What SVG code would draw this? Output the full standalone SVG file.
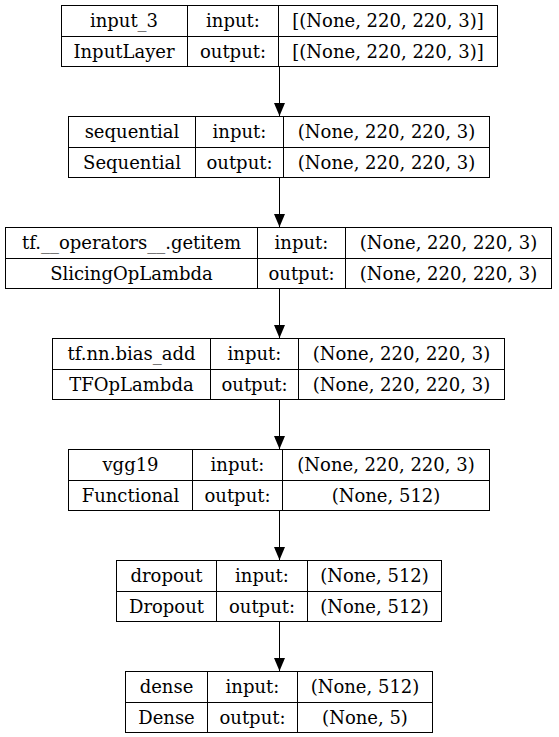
<svg xmlns="http://www.w3.org/2000/svg" width="559" height="737" viewBox="0 0 559 737">
<style>
rect.b{fill:#fff;stroke:#000;stroke-width:1}
line.d{stroke:#000;stroke-width:1}
.e{stroke:#000;stroke-width:1;fill:none}
</style>
<rect width="559" height="737" fill="#fff"/>
<g id="edges">
<line class="e" x1="279.5" y1="67" x2="279.5" y2="116"/>
<polygon points="274,103 285,103 279.5,116"/>
<line class="e" x1="279.5" y1="178" x2="279.5" y2="227"/>
<polygon points="274,214 285,214 279.5,227"/>
<line class="e" x1="279.5" y1="289" x2="279.5" y2="338"/>
<polygon points="274,325 285,325 279.5,338"/>
<line class="e" x1="279.5" y1="400" x2="279.5" y2="449"/>
<polygon points="274,436 285,436 279.5,449"/>
<line class="e" x1="279.5" y1="511" x2="279.5" y2="560"/>
<polygon points="274,547 285,547 279.5,560"/>
<line class="e" x1="279.5" y1="622" x2="279.5" y2="671"/>
<polygon points="274,658 285,658 279.5,671"/>
</g>
<g id="input_3">
<rect class="b" x="61.5" y="5.5" width="436" height="61"/>
<line class="d" x1="61.5" y1="36.5" x2="497.5" y2="36.5"/>
<line class="d" x1="187.5" y1="5.5" x2="187.5" y2="66.5"/>
<line class="d" x1="278.5" y1="5.5" x2="278.5" y2="66.5"/>
<text font-family="DejaVu Serif" font-size="18" text-anchor="middle" x="124" y="27">input_3</text>
<text font-family="DejaVu Serif" font-size="18" text-anchor="middle" x="233" y="27">input:</text>
<text font-family="DejaVu Serif" font-size="18" text-anchor="middle" x="388" y="27">[(None, 220, 220, 3)]</text>
<text font-family="DejaVu Serif" font-size="18" text-anchor="middle" x="124" y="58">InputLayer</text>
<text font-family="DejaVu Serif" font-size="18" text-anchor="middle" x="233" y="58">output:</text>
<text font-family="DejaVu Serif" font-size="18" text-anchor="middle" x="388" y="58">[(None, 220, 220, 3)]</text>
</g>
<g id="sequential">
<rect class="b" x="68.5" y="116.5" width="421" height="61"/>
<line class="d" x1="68.5" y1="147.5" x2="489.5" y2="147.5"/>
<line class="d" x1="195.5" y1="116.5" x2="195.5" y2="177.5"/>
<line class="d" x1="283.5" y1="116.5" x2="283.5" y2="177.5"/>
<text font-family="DejaVu Serif" font-size="18" text-anchor="middle" x="132" y="138">sequential</text>
<text font-family="DejaVu Serif" font-size="18" text-anchor="middle" x="239.5" y="138">input:</text>
<text font-family="DejaVu Serif" font-size="18" text-anchor="middle" x="386.5" y="138">(None, 220, 220, 3)</text>
<text font-family="DejaVu Serif" font-size="18" text-anchor="middle" x="132" y="169">Sequential</text>
<text font-family="DejaVu Serif" font-size="18" text-anchor="middle" x="239.5" y="169">output:</text>
<text font-family="DejaVu Serif" font-size="18" text-anchor="middle" x="386.5" y="169">(None, 220, 220, 3)</text>
</g>
<g id="getitem">
<rect class="b" x="5.5" y="227.5" width="546" height="61"/>
<line class="d" x1="5.5" y1="258.5" x2="551.5" y2="258.5"/>
<line class="d" x1="257.5" y1="227.5" x2="257.5" y2="288.5"/>
<line class="d" x1="345.5" y1="227.5" x2="345.5" y2="288.5"/>
<text font-family="DejaVu Serif" font-size="18" text-anchor="middle" x="131.5" y="249">tf.__operators__.getitem</text>
<text font-family="DejaVu Serif" font-size="18" text-anchor="middle" x="301.5" y="249">input:</text>
<text font-family="DejaVu Serif" font-size="18" text-anchor="middle" x="448.5" y="249">(None, 220, 220, 3)</text>
<text font-family="DejaVu Serif" font-size="18" text-anchor="middle" x="131.5" y="280">SlicingOpLambda</text>
<text font-family="DejaVu Serif" font-size="18" text-anchor="middle" x="301.5" y="280">output:</text>
<text font-family="DejaVu Serif" font-size="18" text-anchor="middle" x="448.5" y="280">(None, 220, 220, 3)</text>
</g>
<g id="bias_add">
<rect class="b" x="52.5" y="338.5" width="452" height="61"/>
<line class="d" x1="52.5" y1="369.5" x2="504.5" y2="369.5"/>
<line class="d" x1="210.5" y1="338.5" x2="210.5" y2="399.5"/>
<line class="d" x1="298.5" y1="338.5" x2="298.5" y2="399.5"/>
<text font-family="DejaVu Serif" font-size="18" text-anchor="middle" x="131.5" y="360">tf.nn.bias_add</text>
<text font-family="DejaVu Serif" font-size="18" text-anchor="middle" x="254.5" y="360">input:</text>
<text font-family="DejaVu Serif" font-size="18" text-anchor="middle" x="401.5" y="360">(None, 220, 220, 3)</text>
<text font-family="DejaVu Serif" font-size="18" text-anchor="middle" x="131.5" y="391">TFOpLambda</text>
<text font-family="DejaVu Serif" font-size="18" text-anchor="middle" x="254.5" y="391">output:</text>
<text font-family="DejaVu Serif" font-size="18" text-anchor="middle" x="401.5" y="391">(None, 220, 220, 3)</text>
</g>
<g id="vgg19">
<rect class="b" x="68.5" y="449.5" width="421" height="61"/>
<line class="d" x1="68.5" y1="480.5" x2="489.5" y2="480.5"/>
<line class="d" x1="192.5" y1="449.5" x2="192.5" y2="510.5"/>
<line class="d" x1="282.5" y1="449.5" x2="282.5" y2="510.5"/>
<text font-family="DejaVu Serif" font-size="18" text-anchor="middle" x="130.5" y="471">vgg19</text>
<text font-family="DejaVu Serif" font-size="18" text-anchor="middle" x="237.5" y="471">input:</text>
<text font-family="DejaVu Serif" font-size="18" text-anchor="middle" x="386" y="471">(None, 220, 220, 3)</text>
<text font-family="DejaVu Serif" font-size="18" text-anchor="middle" x="130.5" y="502">Functional</text>
<text font-family="DejaVu Serif" font-size="18" text-anchor="middle" x="237.5" y="502">output:</text>
<text font-family="DejaVu Serif" font-size="18" text-anchor="middle" x="386" y="502">(None, 512)</text>
</g>
<g id="dropout">
<rect class="b" x="116.5" y="560.5" width="325" height="61"/>
<line class="d" x1="116.5" y1="591.5" x2="441.5" y2="591.5"/>
<line class="d" x1="216.5" y1="560.5" x2="216.5" y2="621.5"/>
<line class="d" x1="307.5" y1="560.5" x2="307.5" y2="621.5"/>
<text font-family="DejaVu Serif" font-size="18" text-anchor="middle" x="166.5" y="582">dropout</text>
<text font-family="DejaVu Serif" font-size="18" text-anchor="middle" x="262" y="582">input:</text>
<text font-family="DejaVu Serif" font-size="18" text-anchor="middle" x="374.5" y="582">(None, 512)</text>
<text font-family="DejaVu Serif" font-size="18" text-anchor="middle" x="166.5" y="613">Dropout</text>
<text font-family="DejaVu Serif" font-size="18" text-anchor="middle" x="262" y="613">output:</text>
<text font-family="DejaVu Serif" font-size="18" text-anchor="middle" x="374.5" y="613">(None, 512)</text>
</g>
<g id="dense">
<rect class="b" x="125.5" y="671.5" width="307" height="61"/>
<line class="d" x1="125.5" y1="702.5" x2="432.5" y2="702.5"/>
<line class="d" x1="207.5" y1="671.5" x2="207.5" y2="732.5"/>
<line class="d" x1="297.5" y1="671.5" x2="297.5" y2="732.5"/>
<text font-family="DejaVu Serif" font-size="18" text-anchor="middle" x="166.5" y="693">dense</text>
<text font-family="DejaVu Serif" font-size="18" text-anchor="middle" x="252.5" y="693">input:</text>
<text font-family="DejaVu Serif" font-size="18" text-anchor="middle" x="365" y="693">(None, 512)</text>
<text font-family="DejaVu Serif" font-size="18" text-anchor="middle" x="166.5" y="724">Dense</text>
<text font-family="DejaVu Serif" font-size="18" text-anchor="middle" x="252.5" y="724">output:</text>
<text font-family="DejaVu Serif" font-size="18" text-anchor="middle" x="365" y="724">(None, 5)</text>
</g>
</svg>
